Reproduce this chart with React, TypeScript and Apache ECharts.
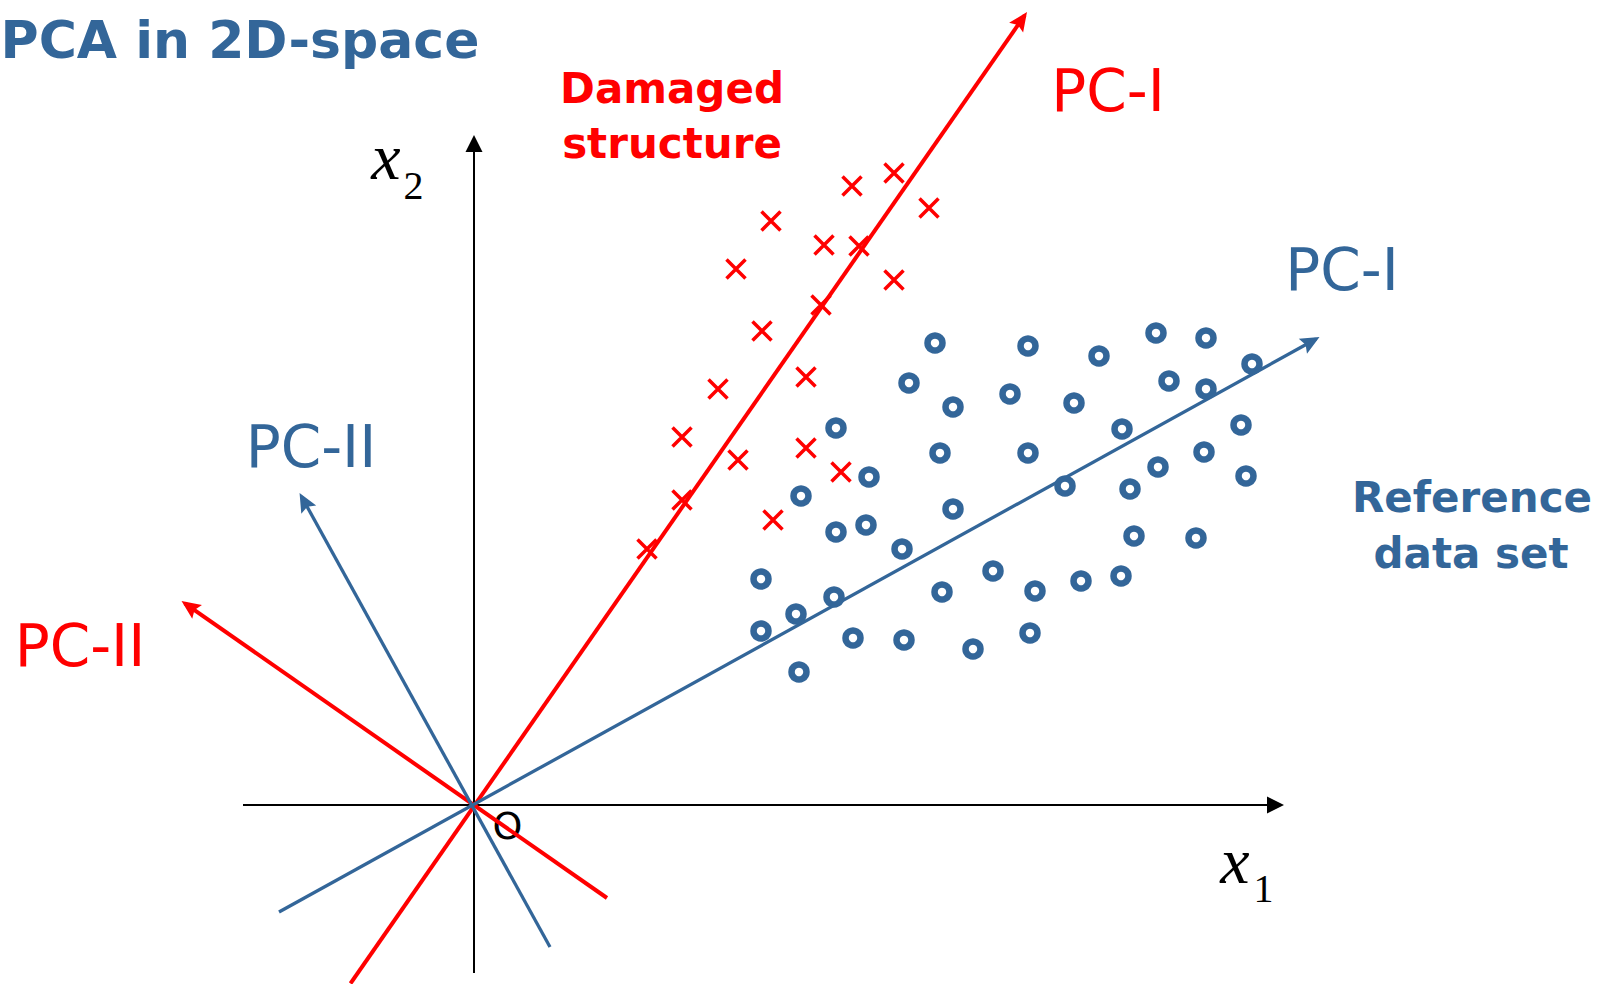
import React, { useEffect, useRef } from 'react';
import * as echarts from 'echarts';

const BLUE = '#336699';
const RED = '#ff0000';
const BLACK = '#000000';

// Reference data set (o markers), plot units (origin at the axes crossing)
const referenceX = [4.61, 5.54, 6.25, 6.82, 7.32, 7.78, 4.35, 4.79, 5.36, 6.0, 6.95, 7.32, 7.67, 6.48, 3.62, 4.66, 5.54, 7.3, 6.84, 7.72, 3.95, 5.91, 6.56, 3.27, 4.79, 3.92, 3.62, 6.6, 7.22, 4.28, 5.19, 6.07, 6.47, 2.87, 4.68, 5.61, 3.6, 3.22, 2.87, 3.79, 4.3, 4.99, 5.56, 3.25];
const referenceY = [4.62, 4.59, 4.49, 4.72, 4.67, 4.41, 4.22, 3.98, 4.11, 4.02, 4.24, 4.16, 3.8, 3.76, 3.77, 3.52, 3.52, 3.53, 3.38, 3.29, 3.28, 3.19, 3.16, 3.09, 2.96, 2.8, 2.73, 2.69, 2.67, 2.56, 2.34, 2.24, 2.29, 2.26, 2.13, 2.14, 2.08, 1.91, 1.74, 1.67, 1.65, 1.56, 1.72, 1.33];

// Damaged structure (x markers)
const damagedX = [4.2, 3.78, 4.55, 2.97, 3.5, 3.85, 2.62, 4.2, 3.47, 2.88, 3.32, 2.44, 2.08, 3.32, 2.64, 3.67, 2.08, 2.99, 1.73];
const damagedY = [6.32, 6.19, 5.97, 5.84, 5.6, 5.59, 5.36, 5.25, 5.0, 4.74, 4.28, 4.16, 3.68, 3.57, 3.45, 3.33, 3.05, 2.85, 2.56];

// Axes and principal-component directions: [start, end(arrow)]
const axisX1 = [[-2.31, 0], [8.07, 0]];
const axisX2 = [[0, -1.68], [0, 6.67]];
const damagedPC1 = [[-1.235, -1.785], [5.507, 7.897]];
const damagedPC2 = [[1.33, -0.93], [-2.892, 2.017]];
const referencePC1 = [[-1.95, -1.07], [8.42, 4.66]];
const referencePC2 = [[0.76, -1.42], [-1.725, 3.085]];

const X_MIN = -4.74;
const X_MAX = 11.24;
const Y_MIN = -1.79;
const Y_MAX = 8.05;

const zip = (xs: number[], ys: number[]) => xs.map((x, i) => [x, ys[i]]);

const ARROW_HEAD = 'path://M8,0L16,18L8,15L0,18Z';

function arrowLine(seg: number[][], kind: 'arrow' | 'triangle') {
  const end =
    kind === 'arrow'
      ? { coord: seg[1], symbol: ARROW_HEAD, symbolSize: [17, 19], symbolOffset: [0, 5.5] }
      : { coord: seg[1], symbol: 'triangle', symbolSize: [17, 17], symbolOffset: [0, 5.5] };
  return [{ coord: seg[0], symbol: 'none' }, end];
}

function txt(
  text: string,
  x: number,
  y: number,
  fontSize: number,
  fill: string,
  opts: { weight?: string; family?: string; italic?: boolean; align?: string } = {}
) {
  const align = opts.align || 'center';
  return {
    type: 'text',
    x,
    y,
    silent: true,
    style: {
      text,
      fill,
      fontSize,
      fontFamily: opts.family || '"DejaVu Sans", Verdana, sans-serif',
      fontWeight: opts.weight || 'normal',
      fontStyle: opts.italic ? 'italic' : 'normal',
      align,
      verticalAlign: 'middle',
      textAlign: align,
      textVerticalAlign: 'middle',
    },
  };
}

export default function App() {
  const ref = useRef<HTMLDivElement>(null);

  useEffect(() => {
    if (!ref.current) return;
    const chart = echarts.init(ref.current, null, { renderer: 'svg' });
    const serif = '"Liberation Serif", "Times New Roman", serif';

    chart.setOption({
      animation: false,
      backgroundColor: '#ffffff',
      grid: { left: 0, right: 0, top: 0, bottom: 0 },
      xAxis: { type: 'value', min: X_MIN, max: X_MAX, show: false },
      yAxis: { type: 'value', min: Y_MIN, max: Y_MAX, show: false },
      graphic: {
        elements: [
          txt('PCA in 2D-space', 240, 40, 52, BLUE, { weight: 'bold' }),
          txt('Damaged', 672, 88, 42, RED, { weight: 'bold' }),
          txt('structure', 672, 143.5, 42, RED, { weight: 'bold' }),
          txt('PC-I', 1108, 91, 58, RED),
          txt('PC-I', 1342, 269.5, 58, BLUE),
          txt('PC-II', 311, 446.5, 58, BLUE),
          txt('PC-II', 80, 646, 58, RED),
          txt('Reference', 1472, 497, 42, BLUE, { weight: 'bold' }),
          txt('data set', 1471, 553.5, 42, BLUE, { weight: 'bold' }),
          txt('x', 386, 156, 66, BLACK, { family: serif, italic: true }),
          txt('2', 413.5, 185.5, 40, BLACK, { family: serif }),
          txt('x', 1235, 860, 66, BLACK, { family: serif, italic: true }),
          txt('1', 1263.5, 888.5, 40, BLACK, { family: serif }),
          txt('O', 507.5, 826, 38, BLACK),
        ],
      },
      series: [
        {
          name: 'axes',
          type: 'line',
          data: [[0, 0]],
          symbol: 'none',
          silent: true,
          lineStyle: { width: 0 },
          markLine: {
            silent: true,
            z: 1,
            label: { show: false },
            emphasis: { disabled: true },
            lineStyle: { color: BLACK, width: 2, type: 'solid' },
            data: [arrowLine(axisX1, 'triangle'), arrowLine(axisX2, 'triangle')],
          },
        },
        {
          name: 'Damaged structure',
          type: 'scatter',
          z: 3,
          silent: true,
          data: zip(damagedX, damagedY),
          symbol: 'path://M0,0L10,10M10,0L0,10',
          symbolSize: 19,
          itemStyle: { color: 'transparent', borderColor: RED, borderWidth: 3.5, opacity: 1 },
          markLine: {
            silent: true,
            z: 1,
            label: { show: false },
            emphasis: { disabled: true },
            lineStyle: { color: RED, width: 4, type: 'solid' },
            data: [arrowLine(damagedPC1, 'arrow'), arrowLine(damagedPC2, 'arrow')],
          },
        },
        {
          name: 'Reference data set',
          type: 'scatter',
          z: 4,
          silent: true,
          data: zip(referenceX, referenceY),
          symbol: 'circle',
          symbolSize: 15,
          itemStyle: { color: '#ffffff', borderColor: BLUE, borderWidth: 6.5, opacity: 1 },
          markLine: {
            silent: true,
            z: 1,
            label: { show: false },
            emphasis: { disabled: true },
            lineStyle: { color: BLUE, width: 3.3, type: 'solid' },
            data: [arrowLine(referencePC1, 'arrow'), arrowLine(referencePC2, 'arrow')],
          },
        },
      ],
    });

    return () => chart.dispose();
  }, []);

  return (
    <div
      ref={ref}
      style={{ position: 'fixed', left: 0, top: 0, width: 1598, height: 984, background: '#fff' }}
    />
  );
}
